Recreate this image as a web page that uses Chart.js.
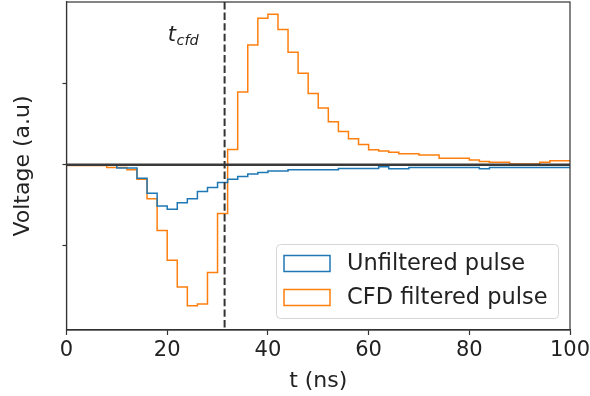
<!DOCTYPE html>
<html>
<head>
<meta charset="utf-8">
<script src="https://cdn.jsdelivr.net/npm/chart.js@4.4.1/dist/chart.umd.min.js"></script>
<style>
  html, body { margin: 0; padding: 0; background: #fff; }
  #wrap { width: 590px; height: 396px; }
</style>
</head>
<body>
<div id="wrap"><canvas id="pulse"></canvas></div>
<script>
// bin start times (ns), each bin is 2 ns wide
var binStart = [0, 2, 4, 6, 8, 10, 12, 14, 16, 18, 20, 22, 24, 26, 28, 30, 32, 34, 36, 38,
    40, 42, 44, 46, 48, 50, 52, 54, 56, 58, 60, 62, 64, 66, 68, 70, 72, 74, 76, 78,
    80, 82, 84, 86, 88, 90, 92, 94, 96, 98];
var tEnd = 100;

var unfiltered = [0, 0, 0, 0, -0.005, -0.04, -0.04, -0.165, -0.35, -0.51, -0.55, -0.47, -0.42, -0.33, -0.28, -0.22, -0.18, -0.145, -0.115, -0.095,
    -0.078, -0.078, -0.062, -0.062, -0.062, -0.062, -0.062, -0.045, -0.045, -0.045, -0.045, -0.025, -0.05, -0.05, -0.033, -0.033, -0.033, -0.033, -0.033, -0.033,
    -0.033, -0.05, -0.033, -0.033, -0.033, -0.033, -0.033, -0.033, -0.033, -0.033];

var cfdFiltered = [-0.008, -0.008, -0.008, -0.008, -0.033, -0.033, -0.06, -0.18, -0.42, -0.81, -1.18, -1.51, -1.74, -1.72, -1.33, -0.60, 0.19, 0.90, 1.48, 1.81,
    1.86, 1.67, 1.39, 1.13, 0.88, 0.70, 0.53, 0.41, 0.32, 0.25, 0.185, 0.17, 0.155, 0.135, 0.135, 0.12, 0.12, 0.08, 0.08, 0.08,
    0.06, 0.04, 0.03, 0.03, 0.01, 0.01, 0.01, 0.03, 0.05, 0.05];

var tCfd = 31.4;
var xTicks = [0, 20, 40, 60, 80, 100];
var yTicks = [-1, 0, 1];

var FONT = 'DejaVu Sans';

function toPoints(values) {
    var pts = binStart.map(function (t, i) {
        return {x: t, y: values[i]};
    });
    pts.push({x: tEnd, y: values[values.length - 1]});
    return pts;
}

// zero line, t_cfd marker, full frame and the legend box
var overlay = {
    id: 'overlay',
    afterDatasetsDraw: function (chart) {
        var ctx = chart.ctx;
        var a = chart.chartArea;
        var xs = chart.scales.x, ys = chart.scales.y;
        ctx.save();

        var y0 = ys.getPixelForValue(0);
        ctx.strokeStyle = '#3a3a3a';
        ctx.lineWidth = 2.5;
        ctx.beginPath();
        ctx.moveTo(a.left, y0);
        ctx.lineTo(a.right, y0);
        ctx.stroke();

        var xc = xs.getPixelForValue(tCfd);
        ctx.setLineDash([7.4, 3.2]);
        ctx.lineWidth = 2;
        ctx.strokeStyle = '#333';
        ctx.beginPath();
        ctx.moveTo(xc, a.top);
        ctx.lineTo(xc, a.bottom);
        ctx.stroke();
        ctx.setLineDash([]);

        // t_cfd label
        ctx.fillStyle = '#222';
        ctx.textBaseline = 'alphabetic';
        ctx.textAlign = 'left';
        var lx = xs.getPixelForValue(20.1), ly = ys.getPixelForValue(1.53);
        ctx.font = 'italic 21px ' + FONT;
        ctx.fillText('t', lx, ly);
        var tw = ctx.measureText('t').width;
        ctx.font = 'italic 14.5px ' + FONT;
        ctx.fillText('cfd', lx + tw + 0.5, ly + 4);

        // frame
        ctx.strokeStyle = '#333';
        ctx.lineWidth = 1.2;
        ctx.strokeRect(a.left, a.top, a.right - a.left, a.bottom - a.top);

        // legend
        var bx = 276.5, by = 244.5, bw = 282, bh = 74;
        ctx.beginPath();
        ctx.roundRect(bx, by, bw, bh, 4);
        ctx.fillStyle = 'rgba(255,255,255,0.85)';
        ctx.fill();
        ctx.strokeStyle = '#d6d6d6';
        ctx.lineWidth = 1;
        ctx.stroke();

        ctx.font = '22.5px ' + FONT;
        ctx.textBaseline = 'middle';
        chart.data.datasets.forEach(function (ds, i) {
            var cy = 263.5 + i * 34;
            ctx.strokeStyle = ds.borderColor;
            ctx.lineWidth = 1.5;
            ctx.strokeRect(284, cy - 8, 46, 16);
            ctx.fillStyle = '#222';
            ctx.fillText(ds.label, 347, cy + 1);
        });
        ctx.restore();
    }
};

new Chart(document.getElementById('pulse'), {
    type: 'line',
    data: {
        datasets: [{
            label: 'Unfiltered pulse',
            data: toPoints(unfiltered),
            borderColor: '#1f77b4',
            borderWidth: 1.5,
            stepped: 'before',
            pointRadius: 0,
            fill: false
        }, {
            label: 'CFD filtered pulse',
            data: toPoints(cfdFiltered),
            borderColor: '#ff7f0e',
            borderWidth: 1.5,
            stepped: 'before',
            pointRadius: 0,
            fill: false
        }]
    },
    options: {
        responsive: true,
        maintainAspectRatio: false,
        animation: false,
        layout: {padding: {top: 2, right: 20, left: 0, bottom: 0}},
        plugins: {
            legend: {display: false},
            tooltip: {enabled: false}
        },
        scales: {
            x: {
                type: 'linear',
                min: 0,
                max: 100,
                afterBuildTicks: function (scale) {
                    scale.ticks = xTicks.map(function (v) { return {value: v}; });
                },
                afterFit: function (scale) {
                    scale.height = 66;
                    scale.paddingLeft = 0;
                    scale.paddingRight = 0;
                },
                border: {display: true, color: '#333', width: 1.2},
                grid: {drawOnChartArea: false, tickLength: 5, color: '#333', tickWidth: 1.2},
                ticks: {
                    color: '#222',
                    padding: 3,
                    maxRotation: 0,
                    font: {family: FONT, size: 21}
                },
                title: {
                    display: true,
                    text: 't (ns)',
                    color: '#222',
                    font: {family: FONT, size: 22},
                    padding: {top: 0, bottom: 2}
                }
            },
            y: {
                min: -2.04,
                max: 2.01,
                afterBuildTicks: function (scale) {
                    scale.ticks = yTicks.map(function (v) { return {value: v}; });
                },
                afterFit: function (scale) { scale.width = 66.5; },
                border: {display: true, color: '#333', width: 1.2},
                grid: {drawOnChartArea: false, tickLength: 4, color: '#333', tickWidth: 1.2},
                ticks: {display: false},
                title: {
                    display: true,
                    text: 'Voltage (a.u)',
                    color: '#222',
                    font: {family: FONT, size: 22},
                    padding: {top: 10, bottom: 0}
                }
            }
        }
    },
    plugins: [overlay]
});
</script>
</body>
</html>
